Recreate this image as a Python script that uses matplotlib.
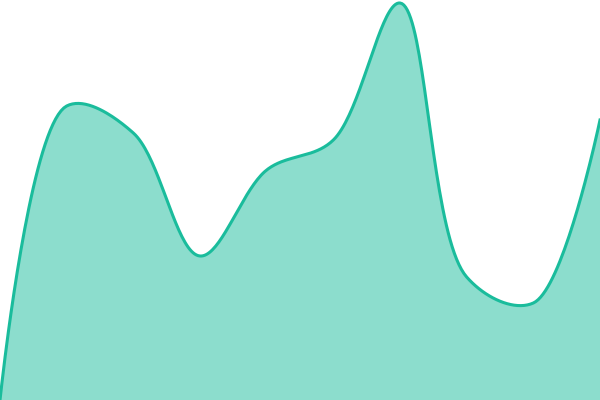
import numpy as np
import matplotlib
matplotlib.use("Agg")
import matplotlib.pyplot as plt

categories = list(range(10))
values = [0, 294, 267, 144, 230, 260, 397, 123, 97, 280]

W, H = 600, 400
YMAX = 400.0


def catmull_rom_centripetal(px, py, alpha=0.5, n=40):
    P = np.column_stack([px, py]).astype(float)
    out = []
    m = len(P)
    for i in range(m - 1):
        p1, p2 = P[i], P[i + 1]
        p0 = P[i - 1] if i > 0 else p1
        p3 = P[i + 2] if i + 2 < m else p2
        l01 = np.linalg.norm(p1 - p0)
        l12 = np.linalg.norm(p2 - p1)
        l23 = np.linalg.norm(p3 - p2)
        l01a, l12a, l23a = l01 ** alpha, l12 ** alpha, l23 ** alpha
        l01_2a, l12_2a, l23_2a = l01 ** (2 * alpha), l12 ** (2 * alpha), l23 ** (2 * alpha)
        c1 = p1.copy()
        if l01a > 1e-12:
            a = 2 * l01_2a + 3 * l01a * l12a + l12_2a
            nn = 3 * l01a * (l01a + l12a)
            c1 = (p1 * a - p0 * l12_2a + p2 * l01_2a) / nn
        c2 = p2.copy()
        if l23a > 1e-12:
            b = 2 * l23_2a + 3 * l23a * l12a + l12_2a
            mm = 3 * l23a * (l23a + l12a)
            c2 = (p2 * b + p1 * l23_2a - p3 * l12_2a) / mm
        t = np.linspace(0, 1, n, endpoint=(i == m - 2))[:, None]
        bz = ((1 - t) ** 3) * p1 + 3 * ((1 - t) ** 2) * t * c1 + 3 * (1 - t) * t ** 2 * c2 + t ** 3 * p2
        out.append(bz)
    out = np.vstack(out)
    return out[:, 0], out[:, 1]


fig = plt.figure(figsize=(6, 4), dpi=100)
ax = fig.add_axes([0, 0, 1, 1])
ax.set_xlim(0, len(categories) - 1)
ax.set_ylim(0, YMAX)
# work in pixel space for the spline (as a web chart would), then map back
px = np.array(categories, float) * W / (len(categories) - 1)
py = np.array(values, float) * H / YMAX
sx, sy = catmull_rom_centripetal(px, py)
cx = sx * (len(categories) - 1) / W
cy = sy * YMAX / H
ax.fill_between(cx, 0, cy, color="#1abc9c", alpha=0.5, linewidth=0)
ax.plot(cx, cy, color="#1abc9c", linewidth=2.2)
ax.axis("off")
fig.savefig("out.png", dpi=100)
